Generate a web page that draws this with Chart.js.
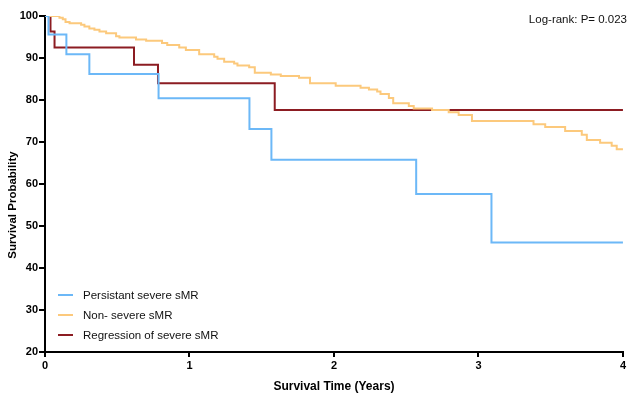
<!DOCTYPE html>
<html>
<head>
<meta charset="utf-8">
<script src="https://cdn.jsdelivr.net/npm/chart.js@4.4.1/dist/chart.umd.min.js"></script>
<style>
  html, body { margin: 0; padding: 0; background: #fff; }
  #wrap { width: 628px; height: 394px; position: relative; }
</style>
</head>
<body>
<div id="wrap"><canvas id="km"></canvas></div>
<script>
// Kaplan-Meier step data (time in years, survival in %)
const persistTimes = [0, 0.024, 0.148, 0.307, 0.786, 1.415, 1.567, 2.569, 3.09, 4];
const persistSurv  = [100, 95.6, 90.9, 86.2, 80.4, 73.1, 65.8, 57.6, 46.1, 46.1];

const nonSevereTimes = [0, 0.10, 0.123, 0.142, 0.17, 0.25, 0.273, 0.307, 0.342, 0.377, 0.423, 0.492, 0.515,
  0.63, 0.70, 0.81, 0.846, 0.929, 0.975, 1.067, 1.171, 1.194, 1.24, 1.309, 1.332, 1.413, 1.452,
  1.563, 1.632, 1.758, 1.834, 2.012, 2.184, 2.242, 2.299, 2.322, 2.38, 2.41, 2.518, 2.552, 2.679,
  2.794, 2.863, 2.955, 3.381, 3.462, 3.6, 3.715, 3.75, 3.842, 3.922, 3.957, 4];
const nonSevereSurv = [100, 99.6, 99.2, 98.6, 98.3, 97.9, 97.5, 97.0, 96.7, 96.3, 95.9, 95.2, 94.9,
  94.4, 94.1, 93.6, 93.1, 92.5, 91.9, 90.9, 90.3, 89.8, 89.1, 88.7, 88.2, 87.8, 86.5,
  86.1, 85.7, 85.3, 84.0, 83.4, 82.9, 82.5, 82.0, 81.4, 80.5, 79.2, 78.6, 78.0, 77.6,
  77.1, 76.4, 75.0, 74.2, 73.6, 72.6, 71.7, 70.5, 69.8, 69.1, 68.3, 68.3];

const regressTimes = [0, 0.038, 0.066, 0.616, 0.782, 1.59, 4];
const regressSurv  = [100, 96.3, 92.5, 88.4, 84.0, 77.6, 77.6];

const seriesLabels = ['Persistant severe sMR', 'Non- severe sMR', 'Regression of severe sMR'];
const seriesColors = ['#6cb8f7', '#fcc97c', '#8c1c22'];
const yTicks = [20, 30, 40, 50, 60, 70, 80, 90, 100];
const xTicks = [0, 1, 2, 3, 4];
const pValueText = 'Log-rank: P= 0.023';
const yTitle = 'Survival Probability';

const toPoints = (ts, vs) => ts.map((t, i) => ({ x: t, y: vs[i] }));

const series = [
  toPoints(persistTimes, persistSurv),
  toPoints(nonSevereTimes, nonSevereSurv),
  toPoints(regressTimes, regressSurv)
];

const datasets = series.map((pts, i) => ({
  label: seriesLabels[i],
  data: pts,
  borderColor: seriesColors[i],
  backgroundColor: seriesColors[i],
  borderWidth: 2,
  pointRadius: 0,
  fill: false,
  stepped: 'before',
  order: i + 1
}));

// legend inside the plot (lower left), p-value note and y title
const extras = {
  id: 'extras',
  afterDraw(chart) {
    const { ctx, chartArea } = chart;
    ctx.save();
    ctx.font = '11.5px "Liberation Sans", Arial, sans-serif';
    ctx.textBaseline = 'middle';
    ctx.textAlign = 'left';
    const rows = [295, 315, 335];
    chart.data.datasets.forEach((ds, i) => {
      const y = rows[i];
      const x0 = chartArea.left + 13;
      ctx.strokeStyle = ds.borderColor;
      ctx.lineWidth = 2;
      ctx.beginPath();
      ctx.moveTo(x0, y);
      ctx.lineTo(x0 + 15, y);
      ctx.stroke();
      ctx.fillStyle = '#111';
      ctx.fillText(ds.label, x0 + 25, y + 0.5);
    });
    ctx.textAlign = 'right';
    ctx.fillText(pValueText, 627, 20);

    // y title sits a bit below the axis centre in the original
    ctx.translate(13, 205);
    ctx.rotate(-Math.PI / 2);
    ctx.textAlign = 'center';
    ctx.fillStyle = '#000';
    ctx.font = 'bold 11.5px "Liberation Sans", Arial, sans-serif';
    ctx.fillText(yTitle, 0, 0);
    ctx.restore();
  }
};

const boldFont = { family: '"Liberation Sans", Arial, sans-serif', size: 11, weight: 'bold' };

new Chart(document.getElementById('km'), {
  type: 'line',
  data: { datasets },
  options: {
    responsive: true,
    maintainAspectRatio: false,
    animation: false,
    layout: { padding: { left: 0, top: 16, right: 3, bottom: 0 } },
    plugins: { legend: { display: false }, tooltip: { enabled: false } },
    scales: {
      x: {
        type: 'linear', min: 0, max: 4,
        afterFit: (s) => { s.height = 42; },
        afterBuildTicks: (s) => { s.ticks = xTicks.map(v => ({ value: v })); },
        border: { color: '#000', width: 2 },
        grid: { display: true, drawOnChartArea: false, drawTicks: true, tickLength: 5, color: '#000', lineWidth: 2 },
        ticks: { color: '#000', font: boldFont, padding: 2, maxRotation: 0 },
        title: { display: true, text: 'Survival Time (Years)', color: '#000',
                 font: { ...boldFont, size: 12 }, padding: { top: 7, bottom: 0 } }
      },
      y: {
        type: 'linear', min: 20, max: 100,
        afterFit: (s) => { s.width = 45; },
        afterBuildTicks: (s) => { s.ticks = yTicks.map(v => ({ value: v })); },
        border: { color: '#000', width: 2 },
        grid: { display: true, drawOnChartArea: false, drawTicks: true, tickLength: 6, color: '#000', lineWidth: 2 },
        ticks: { color: '#000', font: boldFont, padding: 1 },
        title: { display: false }
      }
    }
  },
  plugins: [extras]
});
</script>
</body>
</html>
